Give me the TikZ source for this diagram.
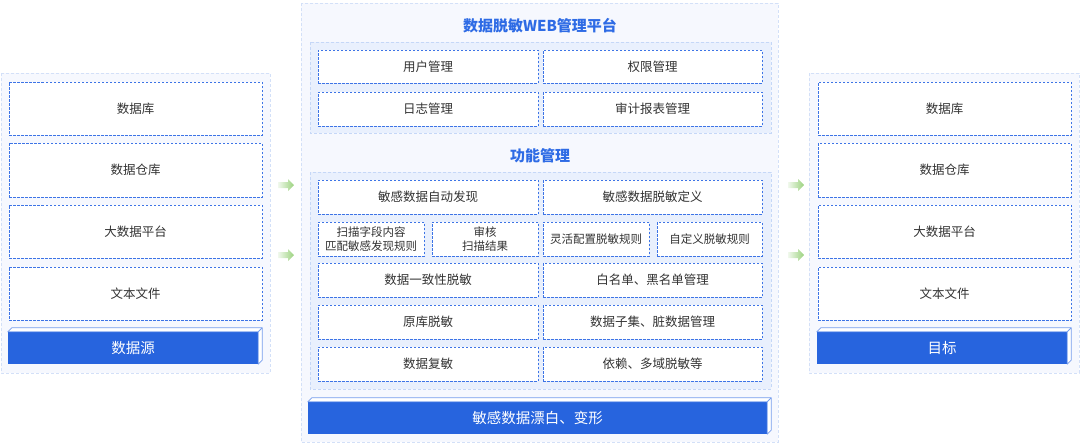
\documentclass[tikz,border=0pt]{standalone}
\usepackage{fontspec}
\setmainfont{Noto Sans CJK SC}
\usepackage{xcolor}
\usepackage{tikz}
\usetikzlibrary{calc}
\usetikzlibrary{shapes.arrows}
\usetikzlibrary{positioning}
\definecolor{panelbg}{HTML}{F6F8FE}
\definecolor{panelline}{HTML}{D3E0F8}
\definecolor{subbg}{HTML}{E9F0FD}
\definecolor{subline}{HTML}{C5D7F7}
\definecolor{boxline}{HTML}{3D74E6}
\definecolor{barblue}{HTML}{2764DE}
\definecolor{titleblue}{HTML}{2E6BE5}
\definecolor{labelgray}{HTML}{333333}
\definecolor{arrowgreen}{HTML}{9BD27E}
\tikzstyle{panel}=[fill=panelbg, draw=panelline, line width=0.8pt, dash pattern=on 3pt off 2pt]
\tikzstyle{subpanel}=[fill=subbg, draw=subline, line width=0.8pt, dash pattern=on 3pt off 2pt]
\tikzstyle{itembox}=[shape=rectangle, fill=white, draw=boxline, line width=0.9pt, dash pattern=on 2.5pt off 1.5pt, text=labelgray, font=\fontsize{12.5}{15}\selectfont, align=center, inner sep=0pt]
\tikzstyle{basebar}=[shape=rectangle, fill=barblue, text=white, font=\fontsize{14.5}{17}\selectfont, inner sep=0pt]
\tikzstyle{barface}=[fill=white, draw=boxline!70, line width=0.8pt, line join=round]
\tikzstyle{paneltitle}=[text=titleblue, font=\fontsize{15}{18}\selectfont\bfseries, inner sep=0pt]
\tikzstyle{flowarrow}=[shape=single arrow, draw=none, minimum height=16pt, inner sep=2.8pt, single arrow head extend=3pt, left color=arrowgreen!15, right color=arrowgreen, shading angle=90]

\begin{document}
\begin{tikzpicture}[x=1pt, y=-1pt]
\useasboundingbox (0,0) rectangle (1080,445);

% source side
\draw[panel] (1,73) rectangle (270,373);
\node [itembox, minimum width=253pt, minimum height=53pt] (srcdb) at (135.5,108.5) {数据库};
\node [itembox, minimum width=253pt, minimum height=54pt] (srcdw) at (135.5,170) {数据仓库};
\node [itembox, minimum width=253pt, minimum height=53pt] (srcbig) at (135.5,231.5) {大数据平台};
\node [itembox, minimum width=253pt, minimum height=53pt] (srcfile) at (135.5,293.5) {文本文件};
\node [basebar, minimum width=250pt, minimum height=32pt] (srcbar) at (133,348) {数据源};
\draw[barface] (srcbar.north west) -- ++(4,-4) -- ($(srcbar.north east)+(4,-4)$) -- ($(srcbar.south east)+(4,-4)$) -- (srcbar.south east) -- (srcbar.north east) -- cycle;
\draw[barface] (srcbar.north east) -- ++(4,-4);

% platform in the middle
\draw[panel] (301,3) rectangle (778,442);
\node [paneltitle] (webtitle) at (540,26) {数据脱敏WEB管理平台};
\draw[subpanel] (310,42) rectangle (771,133);
\node [itembox, minimum width=220pt, minimum height=33pt] (user) at (428,66.5) {用户管理};
\node [itembox, minimum width=219pt, minimum height=33pt] (auth) at (652.5,66.5) {权限管理};
\node [itembox, minimum width=220pt, minimum height=34pt] (log) at (428,109) {日志管理};
\node [itembox, minimum width=219pt, minimum height=34pt] (audit) at (652.5,109) {审计报表管理};

\node [paneltitle] (functitle) at (540,156) {功能管理};
\draw[subpanel] (310,172) rectangle (771,389);
\node [itembox, minimum width=220pt, minimum height=34pt] (discover) at (428,197) {敏感数据自动发现};
\node [itembox, minimum width=219pt, minimum height=34pt] (define) at (652.5,197) {敏感数据脱敏定义};
\node [itembox, minimum width=106pt, minimum height=34pt, font=\fontsize{11.5}{14}\selectfont] (scan) at (371,239) {扫描字段内容\\匹配敏感发现规则};
\node [itembox, minimum width=106pt, minimum height=34pt, font=\fontsize{11.5}{14}\selectfont] (review) at (485,239) {审核\\扫描结果};
\node [itembox, minimum width=106pt, minimum height=34pt, font=\fontsize{11.5}{14}\selectfont] (flexrule) at (596,239) {灵活配置脱敏规则};
\node [itembox, minimum width=105pt, minimum height=34pt, font=\fontsize{11.5}{14}\selectfont] (ownrule) at (709.5,239) {自定义脱敏规则};
\node [itembox, minimum width=220pt, minimum height=34pt] (consist) at (428,280) {数据一致性脱敏};
\node [itembox, minimum width=219pt, minimum height=34pt] (whitelist) at (652.5,280) {白名单、黑名单管理};
\node [itembox, minimum width=220pt, minimum height=34pt] (inplace) at (428,322) {原库脱敏};
\node [itembox, minimum width=219pt, minimum height=34pt] (subset) at (652.5,322) {数据子集、脏数据管理};
\node [itembox, minimum width=220pt, minimum height=34pt] (remask) at (428,364) {数据复敏};
\node [itembox, minimum width=219pt, minimum height=34pt] (multi) at (652.5,364) {依赖、多域脱敏等};
\node [basebar, minimum width=459pt, minimum height=32pt] (midbar) at (537.5,418) {敏感数据漂白、变形};
\draw[barface] (midbar.north west) -- ++(4,-4) -- ($(midbar.north east)+(4,-4)$) -- ($(midbar.south east)+(4,-4)$) -- (midbar.south east) -- (midbar.north east) -- cycle;
\draw[barface] (midbar.north east) -- ++(4,-4);

% target side
\draw[panel] (809,73) rectangle (1079,373);
\node [itembox, minimum width=253pt, minimum height=53pt] (dstdb) at (944.5,108.5) {数据库};
\node [itembox, minimum width=253pt, minimum height=54pt] (dstdw) at (944.5,170) {数据仓库};
\node [itembox, minimum width=253pt, minimum height=53pt] (dstbig) at (944.5,231.5) {大数据平台};
\node [itembox, minimum width=253pt, minimum height=53pt] (dstfile) at (944.5,293.5) {文本文件};
\node [basebar, minimum width=250pt, minimum height=32pt] (dstbar) at (942,348) {目标};
\draw[barface] (dstbar.north west) -- ++(4,-4) -- ($(dstbar.north east)+(4,-4)$) -- ($(dstbar.south east)+(4,-4)$) -- (dstbar.south east) -- (dstbar.north east) -- cycle;
\draw[barface] (dstbar.north east) -- ++(4,-4);

% arrows between the panels
\node [flowarrow] (inarrow1) at (284.5,185) {};
\node [flowarrow] (inarrow2) at (284.5,255) {};
\node [flowarrow] (outarrow1) at (794.5,185) {};
\node [flowarrow] (outarrow2) at (794.5,255) {};
\end{tikzpicture}
\end{document}
